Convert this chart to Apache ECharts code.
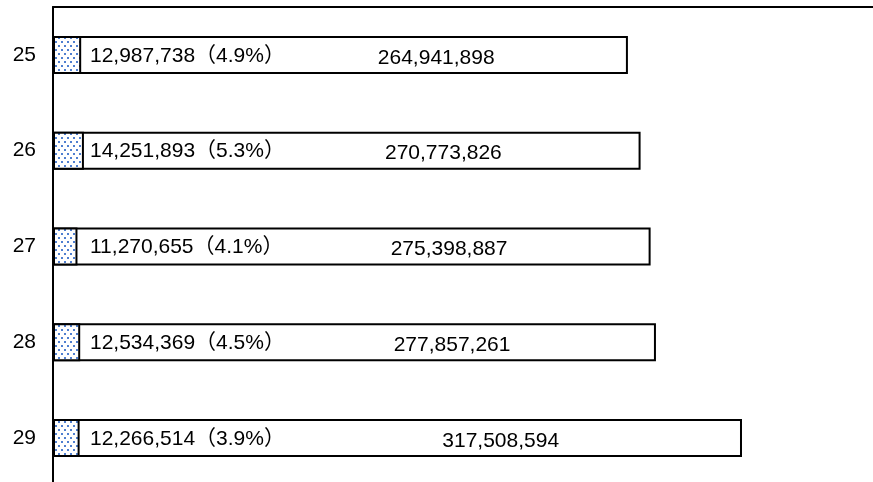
<!DOCTYPE html>
<html>
<head>
<meta charset="utf-8">
<script src="https://cdn.jsdelivr.net/npm/echarts@6/dist/echarts.min.js"></script>
<style>
  html, body { margin: 0; padding: 0; background: #fff; }
  #chart { width: 873px; height: 482px; }
</style>
</head>
<body>
<div id="chart"></div>
<script>
var years = ['25', '26', '27', '28', '29'];
var shareValues = [12987738, 14251893, 11270655, 12534369, 12266514];
var totalValues = [264941898, 270773826, 275398887, 277857261, 317508594];
var shareRates = ['4.9', '5.3', '4.1', '4.5', '3.9'];

// dotted fill for the small segment
function dotPattern() {
  var c = document.createElement('canvas');
  c.width = 6; c.height = 8;
  var ctx = c.getContext('2d');
  ctx.fillStyle = '#ffffff';
  ctx.fillRect(0, 0, 6, 8);
  ctx.fillStyle = '#4f7fd0';
  ctx.fillRect(1, 1, 2, 2);
  ctx.fillRect(4, 5, 2, 2);
  return c;
}

var fontFamily = '"Liberation Sans", "Noto Sans CJK JP", sans-serif';
var fmt = function(v) { return v.toLocaleString('en-US'); };

var chart = echarts.init(document.getElementById('chart'), null, { renderer: 'canvas' });
chart.setOption({
  animation: false,
  backgroundColor: '#ffffff',
  grid: { left: 53, top: 7, width: 868, height: 479, outerBoundsMode: 'none' },
  xAxis: {
    type: 'value', position: 'top', min: 0, max: 400000000,
    axisLine: { show: true, lineStyle: { color: '#000', width: 2 } },
    axisTick: { show: false }, axisLabel: { show: false }, splitLine: { show: false }
  },
  yAxis: {
    type: 'category', inverse: true, data: years,
    axisLine: { show: true, lineStyle: { color: '#000', width: 2 } },
    axisTick: { show: false },
    axisLabel: { color: '#000', fontSize: 21, fontFamily: fontFamily, margin: 17 }
  },
  series: [
    {
      type: 'bar', data: totalValues, barWidth: 38, barGap: '-100%',
      itemStyle: { color: '#ffffff', borderColor: '#000', borderWidth: 2 },
      label: {
        show: true, position: ['56.5%', '50%'], offset: [0, 3],
        align: 'left', verticalAlign: 'middle',
        color: '#000', fontSize: 21, fontFamily: fontFamily,
        formatter: function(p) { return fmt(p.value); }
      }
    },
    {
      type: 'bar', data: shareValues, barWidth: 38, barGap: '-100%',
      itemStyle: { color: { image: dotPattern(), repeat: 'repeat' }, borderColor: '#000', borderWidth: 2 },
      label: {
        show: true, position: [37, '50%'], offset: [0, 1],
        align: 'left', verticalAlign: 'middle',
        color: '#000', fontSize: 21, fontFamily: fontFamily,
        formatter: function(p) { return fmt(p.value) + '（' + shareRates[p.dataIndex] + '%）'; }
      }
    }
  ]
});
</script>
</body>
</html>
